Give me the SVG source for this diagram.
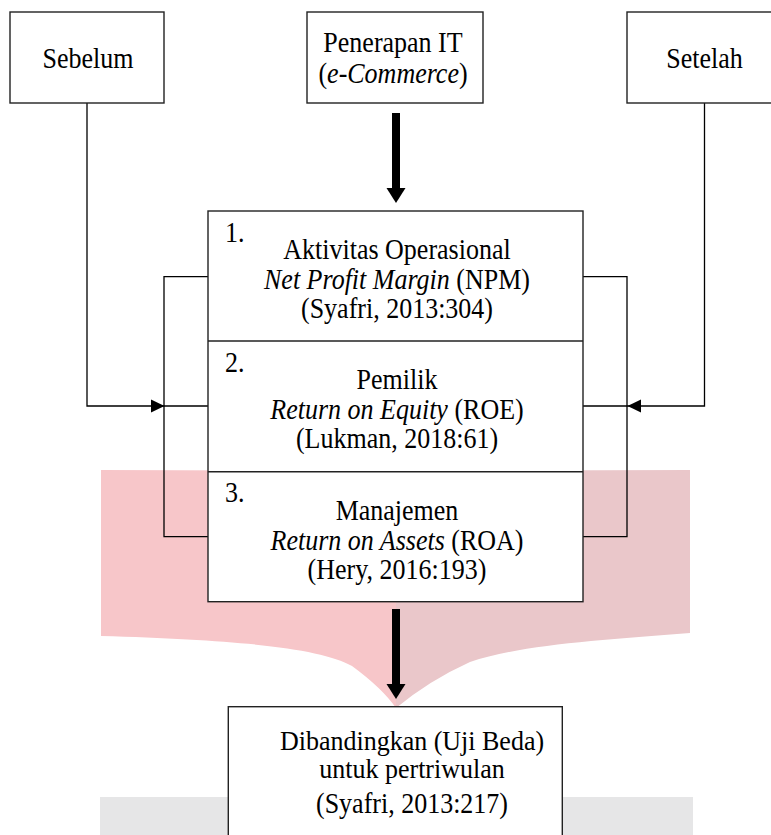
<svg xmlns="http://www.w3.org/2000/svg" width="771" height="835" viewBox="0 0 771 835">
<defs>
<style>
.box{fill:#fff;stroke:#222;stroke-width:1.4}
.ln{fill:none;stroke:#000;stroke-width:1.3}
.t{font-family:"Liberation Serif","Times New Roman",serif;font-size:26px;fill:#000;text-anchor:middle}
.n{font-family:"Liberation Serif","Times New Roman",serif;font-size:26px;fill:#000}
.i{font-style:italic}
</style>
</defs>
<g id="background">
<path d="M101,470 L396,471 L396,708 Q382,688 352,666 C320,648 240,640 101,636 Z" fill="#F7C6C9"/>
<path d="M396,471 L690,470 L690,633 C600,640 520,645 470,662 Q430,680 396,708 Z" fill="#EAC7CA"/>
<rect x="100" y="797" width="593" height="40" fill="#E6E6E7"/>
</g>
<g id="connectors">
<path class="ln" d="M87,103 V406 H208"/>
<path class="ln" d="M704.5,103 V406 H583"/>
<path d="M151,399.5 L164.5,406 L151,412.5 Z" fill="#000"/>
<path d="M641,399.5 L627.5,406 L641,412.5 Z" fill="#000"/>
<path class="ln" d="M208,276.7 H164 V536.7 H208"/>
<path class="ln" d="M583,276.7 H627 V536.7 H583"/>
<g id="arrow-top">
<rect x="392" y="113" width="8" height="76" fill="#000"/>
<path d="M386.5,188 L405.5,188 L396,203 Z" fill="#000"/>
</g>
<g id="arrow-bottom">
<rect x="392" y="609" width="8" height="76" fill="#000"/>
<path d="M386.5,684 L405.5,684 L396,699 Z" fill="#000"/>
</g>
</g>
<g id="node-sebelum">
<rect class="box" x="10" y="12" width="154" height="91"/>
<text class="t" transform="translate(88,68) scale(1,1.12)">Sebelum</text>
</g>
<g id="node-penerapan">
<rect class="box" x="307" y="12" width="176" height="91"/>
<text class="t" transform="translate(393,52) scale(1,1.12)">Penerapan IT</text>
<text class="t" transform="translate(393,83) scale(1,1.12)">(<tspan class="i">e-Commerce</tspan>)</text>
</g>
<g id="node-setelah">
<rect class="box" x="627" y="12" width="155" height="91"/>
<text class="t" transform="translate(704.5,68) scale(1,1.12)">Setelah</text>
</g>
<g id="node-indikator">
<rect class="box" x="208" y="211" width="375" height="390.7"/>
<line class="box" x1="208" y1="341" x2="583" y2="341"/>
<line class="box" x1="208" y1="471.7" x2="583" y2="471.7"/>
<text class="n" transform="translate(225,242) scale(1,1.12)">1.</text>
<text class="t" transform="translate(397,259) scale(1,1.12)">Aktivitas Operasional</text>
<text class="t" transform="translate(397,289) scale(1,1.12)"><tspan class="i">Net Profit Margin</tspan> (NPM)</text>
<text class="t" transform="translate(397,318) scale(1,1.12)">(Syafri, 2013:304)</text>
<text class="n" transform="translate(225,372) scale(1,1.12)">2.</text>
<text class="t" transform="translate(397,389) scale(1,1.12)">Pemilik</text>
<text class="t" transform="translate(397,419) scale(1,1.12)"><tspan class="i">Return on Equity</tspan> (ROE)</text>
<text class="t" transform="translate(397,448) scale(1,1.12)">(Lukman, 2018:61)</text>
<text class="n" transform="translate(225,502) scale(1,1.12)">3.</text>
<text class="t" transform="translate(397,520) scale(1,1.12)">Manajemen</text>
<text class="t" transform="translate(397,550) scale(1,1.12)"><tspan class="i">Return on Assets</tspan> (ROA)</text>
<text class="t" transform="translate(397,579) scale(1,1.12)">(Hery, 2016:193)</text>
</g>
<g id="node-uji-beda">
<rect class="box" x="228.3" y="706.7" width="334" height="140"/>
<text class="t" transform="translate(412,750) scale(1,1.08)">Dibandingkan (Uji Beda)</text>
<text class="t" transform="translate(412,778) scale(1,1.08)">untuk pertriwulan</text>
<text class="t" transform="translate(412,813) scale(1,1.12)">(Syafri, 2013:217)</text>
</g>
</svg>
